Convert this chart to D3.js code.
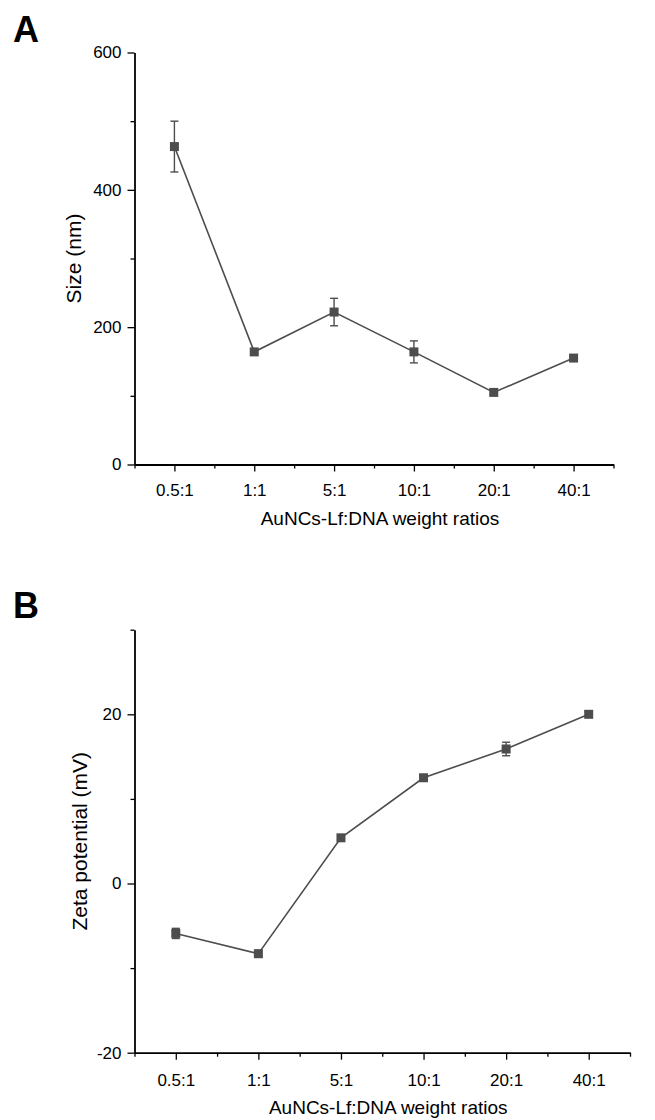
<!DOCTYPE html>
<html>
<head>
<meta charset="utf-8">
<script src="https://cdn.jsdelivr.net/npm/d3@7"></script>
<style>
  body { margin: 0; background: #fff; }
  text { font-family: "Liberation Sans", Arial, sans-serif; fill: #000; }
</style>
</head>
<body>
<svg id="chart" width="655" height="1120"></svg>
<script>
// data
const ratios = ["0.5:1", "1:1", "5:1", "10:1", "20:1", "40:1"];

const size_mean = [463, 164, 222, 164, 105, 155];
const size_err = [37, 3, 20, 16, 3, 3];
const size_ticks = [0, 200, 400, 600];
const size_minor = [100, 300, 500];

const zeta_mean = [-5.9, -8.3, 5.4, 12.5, 15.9, 20.0];
const zeta_err = [0.6, 0.4, 0.3, 0.3, 0.8, 0.3];
const zeta_ticks = [-20, 0, 20];
const zeta_minor = [-10, 10, 30];

const line_color = "#4d4d4d";
const svg = d3.select("#chart");

const draw_panel = (p) => {
    const g = svg.append("g");
    const idx = d3.range(ratios.length);
    const x = d3.scaleLinear().domain([-0.5, ratios.length - 0.5]).range([p.left, p.right]);
    const y = d3.scaleLinear().domain(p.domain).range([p.bottom, p.top]);

    // panel letter
    g.append("text")
        .attr("x", 13).attr("y", p.letter_y)
        .attr("font-size", "36px").attr("font-weight", "bold")
        .text(p.letter);

    // x axis: minor ticks then major
    g.append("g")
        .attr("transform", `translate(0,${p.bottom})`)
        .call(d3.axisBottom(x).tickValues(idx.map(i => i + 0.5).concat([-0.5])).tickSize(4).tickFormat(""))
        .call(a => a.select(".domain").remove())
        .selectAll("line").attr("stroke-width", 1.3);
    const xa = g.append("g")
        .attr("transform", `translate(0,${p.bottom})`)
        .call(d3.axisBottom(x).tickValues(idx).tickSize(7).tickSizeOuter(0).tickPadding(p.xpad).tickFormat(i => ratios[i]));
    xa.select(".domain").attr("stroke-width", 1.8);
    xa.selectAll("line").attr("stroke-width", 1.3);
    xa.selectAll("text").attr("font-size", "17px").attr("font-family", null);

    // y axis
    g.append("g")
        .attr("transform", `translate(${p.left},0)`)
        .call(d3.axisLeft(y).tickValues(p.minor).tickSize(4).tickFormat(""))
        .call(a => a.select(".domain").remove())
        .selectAll("line").attr("stroke-width", 1.3);
    const ya = g.append("g")
        .attr("transform", `translate(${p.left},0)`)
        .call(d3.axisLeft(y).tickValues(p.ticks).tickSize(7).tickSizeOuter(0).tickPadding(6).tickFormat(v => String(v)));
    ya.select(".domain").attr("stroke-width", 1.8);
    ya.selectAll("line").attr("stroke-width", 1.3);
    ya.selectAll("text").attr("font-size", "17px").attr("font-family", null);

    // axis titles
    g.append("text")
        .attr("x", (p.left + p.right) / 2 + 6).attr("y", p.xtitle_y)
        .attr("text-anchor", "middle").attr("font-size", "19px")
        .text("AuNCs-Lf:DNA weight ratios");
    g.append("text")
        .attr("transform", `translate(${p.ytitle_x},${(p.top + p.bottom) / 2}) rotate(-90)`)
        .attr("text-anchor", "middle").attr("font-size", "21px")
        .text(p.ylabel);

    // line
    g.append("path")
        .datum(idx)
        .attr("fill", "none").attr("stroke", line_color).attr("stroke-width", 1.6)
        .attr("d", d3.line().x(i => x(i)).y(i => y(p.mean[i])));

    // error bars
    const eb = g.append("g").attr("stroke", line_color).attr("stroke-width", 1.4);
    eb.selectAll(".v").data(idx).enter().append("line")
        .attr("x1", i => x(i)).attr("x2", i => x(i))
        .attr("y1", i => y(p.mean[i] - p.err[i])).attr("y2", i => y(p.mean[i] + p.err[i]));
    [-1, 1].forEach(s => {
        eb.selectAll(".c" + s).data(idx).enter().append("line")
            .attr("x1", i => x(i) - 4).attr("x2", i => x(i) + 4)
            .attr("y1", i => y(p.mean[i] + s * p.err[i])).attr("y2", i => y(p.mean[i] + s * p.err[i]));
    });

    // square markers
    g.append("g").selectAll("rect").data(idx).enter().append("rect")
        .attr("x", i => x(i) - 4.5).attr("y", i => y(p.mean[i]) - 4.5)
        .attr("width", 9).attr("height", 9)
        .attr("fill", line_color);
};

draw_panel({
    letter: "A", letter_y: 42,
    left: 134.5, right: 613.5, top: 52.5, bottom: 464.5,
    domain: [0, 600], ticks: size_ticks, minor: size_minor,
    mean: size_mean, err: size_err,
    ylabel: "Size (nm)", ytitle_x: 80.5, xtitle_y: 525, xpad: 12
});

draw_panel({
    letter: "B", letter_y: 618,
    left: 134.5, right: 630, top: 629.7, bottom: 1052.7,
    domain: [-20, 30], ticks: zeta_ticks, minor: zeta_minor,
    mean: zeta_mean, err: zeta_err,
    ylabel: "Zeta potential (mV)", ytitle_x: 86.5, xtitle_y: 1114, xpad: 14
});
</script>
</body>
</html>
